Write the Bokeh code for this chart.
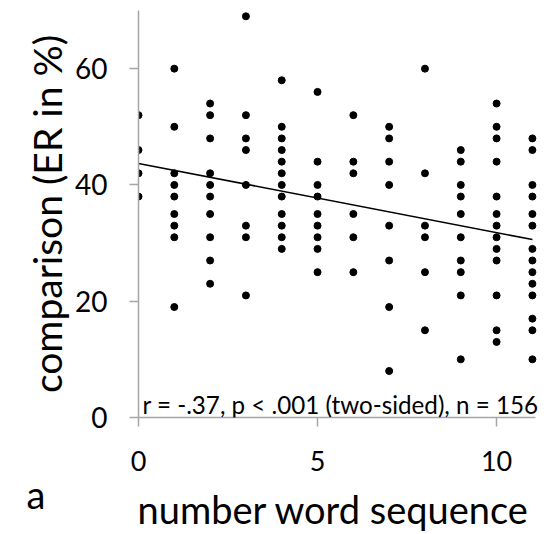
from bokeh.plotting import figure
from bokeh.models import ColumnDataSource, Range1d, FixedTicker, Label
from bokeh.embed import file_html
from bokeh.resources import INLINE

# Data (number word sequence score -> comparison ER in %)
er_0 = [52, 46, 42, 38]
er_1 = [60, 50, 42, 40, 38, 35, 33, 31, 19]
er_2 = [54, 52, 48, 42, 40, 38, 35, 31, 27, 23]
er_3 = [69, 52, 48, 46, 40, 33, 31, 21]
er_4 = [58, 50, 48, 46, 44, 42, 40, 38, 35, 33, 31, 29]
er_5 = [56, 44, 40, 38, 35, 33, 31, 29, 25]
er_6 = [52, 44, 42, 35, 31, 25]
er_7 = [50, 48, 44, 40, 33, 27, 19, 8]
er_8 = [60, 42, 33, 31, 25, 15]
er_9 = [46, 44, 40, 38, 35, 31, 27, 25, 21, 10]
er_10 = [54, 50, 48, 44, 38, 35, 33, 31, 29, 27, 21, 15, 13]
er_11 = [48, 46, 40, 38, 35, 33, 29, 27, 25, 23, 21, 17, 15, 10]

columns = [er_0, er_1, er_2, er_3, er_4, er_5, er_6, er_7, er_8, er_9, er_10, er_11]

fit_x = [0, 11]
fit_y = [43.7, 30.6]

x_ticks = [0, 5, 10]
y_ticks = [0, 20, 40, 60]
x_axis_extent = (0, 11.08)

x_title = "number word sequence"
y_title = "comparison (ER in %)"
stats_text = "r = -.37, p < .001 (two-sided), n = 156"
panel_letter = "a"

xs, ys = [], []
for score, vals in enumerate(columns):
    for v in vals:
        xs.append(score)
        ys.append(v)
src = ColumnDataSource(data=dict(x=xs, y=ys))

FONT = "Lato"
AX = "#a6a6a6"

p = figure(width=552, height=534, output_backend="svg", toolbar_location=None,
           x_range=Range1d(0, 11.31), y_range=Range1d(0, 70),
           min_border_left=138, min_border_top=10, min_border_bottom=117,
           min_border_right=9)
p.outline_line_color = None
p.grid.grid_line_color = None
p.background_fill_color = "white"

p.line(fit_x, fit_y, line_color="black", line_width=1.5)
p.scatter("x", "y", source=src, size=7, fill_color="black", line_color="black")

for ax in (p.xaxis[0], p.yaxis[0]):
    ax.axis_line_color = AX
    ax.axis_line_width = 1.5
    ax.major_tick_line_color = AX
    ax.major_tick_line_width = 1.5
    ax.major_tick_in = 0
    ax.major_tick_out = 9
    ax.minor_tick_line_color = None
    ax.major_label_text_font = FONT
    ax.major_label_text_color = "black"
    ax.axis_label_text_font = FONT
    ax.axis_label_text_font_style = "normal"
    ax.axis_label_text_color = "black"

p.xaxis.bounds = x_axis_extent
p.xaxis.major_label_text_font_size = "27px"
p.yaxis.major_label_text_font_size = "28px"
p.yaxis.axis_label_text_font_size = "39px"
p.xaxis.ticker = FixedTicker(ticks=x_ticks)
p.yaxis.ticker = FixedTicker(ticks=y_ticks)
p.yaxis.axis_label = y_title
p.xaxis.major_label_standoff = 24
p.yaxis.major_label_standoff = 22
p.yaxis.axis_label_standoff = 2

p.add_layout(Label(x=0.11, y=2.2, text=stats_text, text_font=FONT,
                   text_font_size="24.2px", text_color="black",
                   text_baseline="alphabetic"))
p.add_layout(Label(x=26, y=493, x_units="canvas", y_units="canvas",
                   text=panel_letter, text_font=FONT,
                   text_font_size="38px", text_color="black",
                   text_baseline="alphabetic"), "left")
p.add_layout(Label(x=137, y=508, x_units="canvas", y_units="canvas",
                   text=x_title, text_font=FONT,
                   text_font_size="38px", text_color="black",
                   text_baseline="alphabetic"), "below")

open("out.html", "w").write(file_html(p, INLINE))
